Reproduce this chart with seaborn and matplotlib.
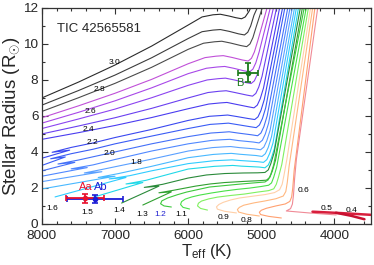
import matplotlib
matplotlib.use("Agg")
import matplotlib.pyplot as plt
import pandas as pd
import seaborn as sns
from matplotlib.ticker import MultipleLocator

# evolutionary tracks, (Teff [K], R [Rsun]) points
trk_30 = [(8000, 7.00), (7500, 7.88), (7000, 8.83), (6500, 9.88), (6000, 11.05), (5810, 11.5), (5660, 11.62), (5560, 11.65),
          (5440, 11.55), (5350, 11.46), (5270, 11.4), (5220, 11.5), (5170, 11.8), (5110, 12.3), (5060, 12.8)]
trk_29 = [(8000, 6.60), (7500, 7.41), (7000, 8.27), (6500, 9.23), (6000, 10.3), (5810, 10.68), (5660, 10.77), (5560, 10.8),
          (5440, 10.7), (5310, 10.56), (5230, 10.5), (5185, 10.65), (5145, 11.0), (5100, 11.6), (4990, 12.6)]
trk_28 = [(8000, 6.25), (7500, 7.01), (7000, 7.81), (6500, 8.70), (6000, 9.7), (5790, 10.04), (5640, 10.12), (5540, 10.15),
          (5420, 10.05), (5280, 9.91), (5200, 9.85), (5155, 10.0), (5115, 10.35), (5070, 10.95), (4940, 12.6)]
trk_27 = [(8000, 5.90), (7500, 6.56), (7000, 7.26), (6500, 8.03), (6000, 8.9), (5770, 9.24), (5620, 9.32), (5520, 9.35),
          (5400, 9.25), (5260, 9.11), (5180, 9.05), (5135, 9.2), (5095, 9.55), (5050, 10.15), (4880, 12.6)]
trk_26 = [(8000, 5.60), (7500, 6.20), (7000, 6.84), (6500, 7.56), (6000, 8.35), (5750, 8.65), (5600, 8.72), (5500, 8.75),
          (5380, 8.65), (5240, 8.51), (5160, 8.45), (5115, 8.6), (5075, 8.95), (5030, 9.55), (4840, 12.6)]
trk_25 = [(8000, 5.30), (7500, 5.83), (7000, 6.38), (6500, 7.01), (6000, 7.7), (5740, 8.0), (5590, 8.07), (5490, 8.1),
          (5370, 8.0), (5220, 7.86), (5140, 7.8), (5095, 7.95), (5055, 8.3), (5010, 8.9), (4800, 12.6)]
trk_24 = [(8000, 5.00), (7500, 5.44), (7000, 5.90), (6500, 6.42), (6000, 7.0), (5730, 7.3), (5580, 7.37), (5480, 7.4),
          (5360, 7.3), (5200, 7.16), (5120, 7.1), (5075, 7.25), (5035, 7.6), (4990, 8.2), (4760, 12.6)]
trk_23 = [(8000, 4.70), (7500, 5.07), (7000, 5.47), (6500, 5.91), (6000, 6.4), (5720, 6.66), (5570, 6.72), (5470, 6.75),
          (5350, 6.65), (5180, 6.51), (5100, 6.45), (5055, 6.6), (5015, 6.95), (4970, 7.55), (4720, 12.6)]
trk_22 = [(8000, 3.65), (7620, 4.10), (7860, 3.98), (7600, 4.25), (7300, 4.5), (7000, 4.8), (6500, 5.25), (6000, 5.75),
          (5710, 5.98), (5560, 6.02), (5460, 6.05), (5340, 5.97), (5170, 5.85), (5090, 5.8), (5045, 5.95), (5005, 6.3),
          (4960, 6.9), (4680, 12.6)]
trk_21 = [(8000, 3.25), (7680, 3.72), (7880, 3.62), (7600, 3.9), (7300, 4.15), (7000, 4.45), (6500, 4.88), (6000, 5.3),
          (5700, 5.53), (5550, 5.57), (5450, 5.6), (5330, 5.52), (5150, 5.4), (5070, 5.35), (5025, 5.5), (4985, 5.85),
          (4940, 6.45), (4650, 12.6)]
trk_20 = [(8000, 2.95), (7550, 3.42), (7780, 3.33), (7500, 3.55), (7200, 3.82), (7000, 4.0), (6500, 4.45), (6000, 4.85),
          (5690, 5.05), (5540, 5.09), (5440, 5.12), (5320, 5.05), (5130, 4.95), (5050, 4.9), (5005, 5.05), (4965, 5.4),
          (4920, 6.0), (4610, 12.6)]
trk_19 = [(8000, 2.65), (7380, 3.13), (7600, 3.06), (7300, 3.28), (7000, 3.58), (6500, 4.05), (6000, 4.45), (5680, 4.64),
          (5530, 4.68), (5430, 4.7), (5310, 4.63), (5110, 4.55), (5030, 4.5), (4985, 4.65), (4945, 5.0), (4900, 5.6),
          (4580, 12.6)]
trk_18 = [(8000, 2.35), (7180, 2.90), (7420, 2.83), (7150, 3.05), (6700, 3.43), (6500, 3.6), (6000, 4.05), (5670, 4.24),
          (5520, 4.28), (5420, 4.3), (5300, 4.24), (5090, 4.17), (5010, 4.12), (4965, 4.27), (4925, 4.62), (4880, 5.2),
          (4550, 12.6)]
trk_17 = [(7990, 1.95), (7000, 2.65), (7230, 2.58), (6950, 2.8), (6500, 3.2), (6000, 3.68), (5660, 3.86), (5510, 3.9),
          (5410, 3.92), (5290, 3.87), (5070, 3.8), (4990, 3.75), (4945, 3.9), (4905, 4.25), (4860, 4.85), (4520, 12.6)]
trk_16 = [(7820, 1.50), (6850, 2.58), (7080, 2.50), (6800, 2.68), (6500, 2.95), (6000, 3.35), (5650, 3.51), (5500, 3.54),
          (5400, 3.56), (5280, 3.52), (5050, 3.46), (4970, 3.42), (4925, 3.57), (4885, 3.92), (4840, 4.5), (4495, 12.6)]
trk_15 = [(7430, 1.32), (6620, 2.30), (6850, 2.22), (6580, 2.42), (6000, 3.05), (5640, 3.2), (5490, 3.23), (5390, 3.25),
          (5270, 3.21), (5030, 3.16), (4950, 3.12), (4905, 3.27), (4865, 3.62), (4820, 4.2), (4467, 12.6)]
trk_14 = [(6910, 1.16), (6400, 2.10), (6600, 2.03), (6350, 2.2), (6000, 2.55), (5750, 2.72), (5500, 2.8), (5250, 2.83),
          (5050, 2.84), (4950, 2.86), (4905, 3.0), (4870, 3.35), (4825, 3.95), (4440, 12.6)]
trk_13 = [(6620, 1.05), (6230, 1.78), (6400, 1.73), (6200, 1.87), (5900, 2.1), (5700, 2.22), (5500, 2.3), (5250, 2.36),
          (5050, 2.4), (4930, 2.43), (4885, 2.58), (4850, 2.93), (4805, 3.55), (4413, 12.6)]
trk_12 = [(6230, 0.94), (6330, 1.00), (6377, 1.12), (6360, 1.28), (6281, 1.44), (6150, 1.62), (6022, 1.77), (5709, 2.05),
          (5299, 2.21), (5100, 2.28), (4950, 2.33), (4905, 2.45), (4870, 2.75), (4830, 3.3), (4385, 12.6)]
trk_11 = [(5981, 0.83), (6070, 0.92), (6104, 1.08), (6090, 1.24), (6040, 1.38), (5950, 1.5), (5845, 1.6), (5680, 1.72),
          (5504, 1.83), (5330, 1.92), (5163, 1.99), (5000, 2.08), (4900, 2.15), (4860, 2.28), (4830, 2.6), (4790, 3.15),
          (4358, 12.6)]
trk_10 = [(5736, 0.77), (5830, 0.86), (5872, 1.00), (5860, 1.15), (5818, 1.27), (5720, 1.39), (5599, 1.49), (5420, 1.58),
          (5231, 1.66), (5050, 1.77), (4900, 1.85), (4830, 1.95), (4795, 2.2), (4765, 2.6), (4720, 3.3), (4331, 12.6)]
trk_09 = [(5340, 0.61), (5500, 0.70), (5600, 0.82), (5613, 0.95), (5580, 1.08), (5520, 1.2), (5420, 1.33), (5299, 1.44),
          (5100, 1.55), (4950, 1.63), (4820, 1.74), (4750, 1.9), (4715, 2.2), (4690, 2.7), (4650, 3.6), (4304, 12.6)]
trk_08 = [(5027, 0.44), (5200, 0.54), (5310, 0.66), (5327, 0.80), (5300, 0.92), (5240, 1.04), (5100, 1.17), (4958, 1.27),
          (4800, 1.4), (4700, 1.55), (4665, 1.8), (4645, 2.3), (4620, 3.2), (4276, 12.6)]
trk_07 = [(4726, 0.33), (4900, 0.42), (5010, 0.52), (5027, 0.65), (5000, 0.76), (4930, 0.87), (4800, 1.00), (4672, 1.11),
          (4610, 1.25), (4585, 1.5), (4570, 2.0), (4550, 3.0), (4249, 12.6)]
trk_06 = [(3976, 0.50), (4345, 0.61), (4658, 0.72), (4600, 0.85), (4575, 1.1), (4560, 1.6), (4545, 2.5), (4520, 3.6),
          (4208, 12.6)]
trk_05 = [(4300, 0.68), (3900, 0.60), (3480, 0.50)]
trk_04 = [(3980, 0.62), (3770, 0.45), (3590, 0.26)]

masses = ["3.0", "2.9", "2.8", "2.7", "2.6", "2.5", "2.4", "2.3", "2.2", "2.1", "2.0", "1.9", "1.8",
          "1.7", "1.6", "1.5", "1.4", "1.3", "1.2", "1.1", "1.0", "0.9", "0.8", "0.7", "0.6", "0.5", "0.4"]
colors = ["#2b2b2b", "#3c3c3c", "#4a4a4a", "#c050d8", "#a848e8", "#8c44f0", "#6a40f0", "#4a3cf0",
          "#3a48f0", "#3a5cf5", "#4470f8", "#5088ff", "#5aa0ff", "#48b8ff", "#30ccff", "#20d8e8",
          "#2a8a3a", "#30a030", "#3cc83c", "#48e048", "#80f060", "#ffd0a8", "#ffb880", "#ffa070",
          "#f08a96", "#d81e3c", "#c81030"]

# mass labels written next to the tracks
lab_text = ["3.0", "2.8", "2.6", "2.4", "2.2", "2.0", "1.8", "1.6", "1.5", "1.4", "1.3", "1.2", "1.1",
            "0.9", "0.8", "0.6", "0.5", "0.4"]
lab_teff = [7004, 7209, 7332, 7359, 7305, 7073, 6704, 7864, 7373, 6936, 6623, 6377, 6090,
            5518, 5204, 4426, 4112, 3772]
lab_rad = [8.96, 7.47, 6.25, 5.25, 4.54, 3.93, 3.43, 0.83, 0.61, 0.72, 0.55, 0.55, 0.55,
           0.33, 0.17, 1.88, 0.88, 0.77]
lab_col = ["black"] * 11 + ["#2020d0"] + ["black"] * 6

# measured components
comp_names = ["Ab", "Aa", "B"]
comp_teff = [7270, 7410, 5177]
comp_teff_err = [380, 260, 135]
comp_rad = [1.37, 1.42, 8.41]
comp_rad_err = [0.23, 0.23, 0.55]
comp_colors = ["#1c1cd6", "#e8102e", "#1b7a1b"]
comp_lab_teff = [7190, 7400, 5300]
comp_lab_rad = [2.05, 2.05, 7.85]

sns.set_theme(style="ticks")
plt.rcParams["font.family"] = ["Liberation Sans", "DejaVu Sans"]
plt.rcParams["mathtext.fontset"] = "custom"
plt.rcParams["mathtext.rm"] = "Liberation Sans"
plt.rcParams["mathtext.it"] = "Liberation Sans:italic"

tracks = [trk_30, trk_29, trk_28, trk_27, trk_26, trk_25, trk_24, trk_23, trk_22, trk_21, trk_20,
          trk_19, trk_18, trk_17, trk_16, trk_15, trk_14, trk_13, trk_12, trk_11, trk_10, trk_09,
          trk_08, trk_07, trk_06, trk_05, trk_04]
rows = []
for m, trk in zip(masses, tracks):
    for i, (t, r) in enumerate(trk):
        rows.append((m, i, t, r))
df = pd.DataFrame(rows, columns=["mass", "step", "teff", "radius"])
pal = dict(zip(masses, colors))
thick = df["mass"].isin(["0.5", "0.4"])

fig, ax = plt.subplots(figsize=(3.74, 2.65), dpi=100)
fig.subplots_adjust(left=0.112, right=0.992, bottom=0.155, top=0.970)

thin_df = df[~thick]
sns.lineplot(data=thin_df, x="teff", y="radius", hue="mass", units="mass", estimator=None,
             sort=False, palette={m: pal[m] for m in thin_df["mass"].unique()},
             lw=0.8, legend=False, ax=ax)
thick_df = df[thick]
sns.lineplot(data=thick_df, x="teff", y="radius", hue="mass", units="mass", estimator=None,
             sort=False, palette={m: pal[m] for m in thick_df["mass"].unique()},
             lw=1.8, legend=False, ax=ax)

for txt, t, r, c in zip(lab_text, lab_teff, lab_rad, lab_col):
    ax.text(t, r, txt, fontsize=6, color=c, ha="center", va="center")

for name, t, te, r, re, c, lt, lr in zip(comp_names, comp_teff, comp_teff_err, comp_rad,
                                         comp_rad_err, comp_colors, comp_lab_teff, comp_lab_rad):
    ax.errorbar(t, r, xerr=te, yerr=re, fmt="o", color=c, ms=3, lw=1.3,
                capsize=2.2, capthick=1.2, zorder=5)
    ax.text(lt, lr, name, fontsize=8, color=c, ha="center", va="center")

ax.text(7800, 10.85, "TIC 42565581", fontsize=9.5, ha="left", va="center")

ax.set_xlim(8000, 3500)
ax.set_ylim(0, 12)
ax.xaxis.set_major_locator(MultipleLocator(1000))
ax.xaxis.set_minor_locator(MultipleLocator(200))
ax.yaxis.set_major_locator(MultipleLocator(2))
ax.yaxis.set_minor_locator(MultipleLocator(1))
ax.tick_params(which="both", direction="in", top=True, right=True, width=0.8,
               color="#333333", labelsize=9.7)
ax.tick_params(which="major", length=4)
ax.tick_params(which="minor", length=2.5)
ax.tick_params(axis="x", which="major", pad=4.5)
ax.tick_params(axis="y", which="major", pad=2.5)
for sp in ax.spines.values():
    sp.set_color("#333333")
    sp.set_linewidth(0.9)

ax.set_xlabel(r"T$_{\rm eff}$ (K)", fontsize=12, labelpad=0)
ax.set_ylabel(r"Stellar Radius (R$_{\odot}$)", fontsize=13.5, labelpad=1)

fig.savefig("out.png", dpi=100)
